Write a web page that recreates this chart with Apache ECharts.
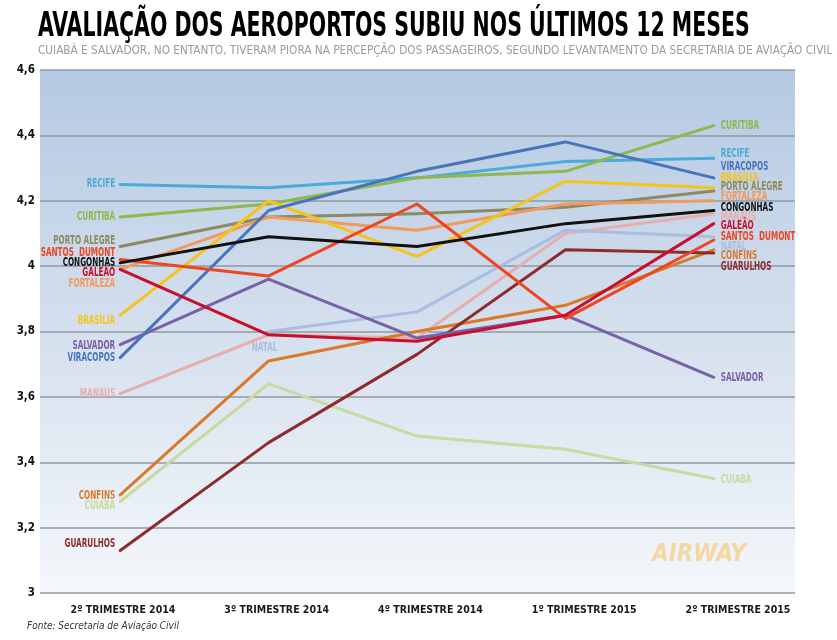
<!DOCTYPE html>
<html>
<head>
<meta charset="utf-8">
<script src="https://cdn.jsdelivr.net/npm/echarts@6/dist/echarts.min.js"></script>
<style>
  html, body { margin: 0; padding: 0; background: #fff; }
  #chart { width: 837px; height: 640px; }
</style>
</head>
<body>
<div id="chart"></div>
<script>
const quarters = ['2º TRIMESTRE 2014', '3º TRIMESTRE 2014', '4º TRIMESTRE 2014', '1º TRIMESTRE 2015', '2º TRIMESTRE 2015'];

// notas por aeroporto (null = sem dado)
const recife       = [4.25, 4.24, 4.27, 4.32, 4.33];
const curitiba     = [4.15, 4.19, 4.27, 4.29, 4.43];
const portoAlegre  = [4.06, 4.15, 4.16, 4.18, 4.23];
const santosDumont = [4.02, 3.97, 4.19, 3.84, 4.08];
const galeao       = [3.99, 3.79, 3.77, 3.85, 4.13];
const fortaleza    = [3.99, 4.15, 4.11, 4.19, 4.20];
const brasilia     = [3.85, 4.20, 4.03, 4.26, 4.24];
const salvador     = [3.76, 3.96, 3.78, 3.85, 3.66];
const viracopos    = [3.72, 4.17, 4.29, 4.38, 4.27];
const manaus       = [3.61, 3.79, 3.78, 4.10, 4.16];
const natal        = [null, 3.80, 3.86, 4.11, 4.09];
const confins      = [3.30, 3.71, 3.80, 3.88, 4.05];
const cuiaba       = [3.28, 3.64, 3.48, 3.44, 3.35];
const guarulhos    = [3.13, 3.46, 3.73, 4.05, 4.04];
const congonhas    = [4.01, 4.09, 4.06, 4.13, 4.17];

const FONT = '"Liberation Sans Narrow", "DejaVu Sans Condensed", sans-serif';

// [nome, dados, cor, deslocamento rótulo esquerdo, deslocamento rótulo direito]
const airports = [
  ['RECIFE', recife, '#4aabd8', 0, -4],
  ['CURITIBA', curitiba, '#8cb84e', 0, 0],
  ['PORTO ALEGRE', portoAlegre, '#8b8a60', -5, -4],
  ['FORTALEZA', fortaleza, '#f19a5b', 15, -4],
  ['BRASÍLIA', brasilia, '#f5c41b', 6, -10],
  ['MANAUS', manaus, '#e6aeac', 0, 3],
  ['NATAL', natal, '#a9bde0', 0, 10],
  ['CONFINS', confins, '#d87a2a', 1, 6],
  ['CUIABÁ', cuiaba, '#c8d9a1', 5, 1],
  ['GUARULHOS', guarulhos, '#8e2c2c', -6, 14],
  ['SALVADOR', salvador, '#7861a8', 1, 1],
  ['VIRACOPOS', viracopos, '#4874bc', 0, -11],
  ['SANTOS  DUMONT', santosDumont, '#ef4520', -7, -3],
  ['GALEÃO', galeao, '#c8102e', 4, 2],
  ['CONGONHAS', congonhas, '#111111', 0, -3]
];

const series = airports.map(([name, values, color]) => ({
  name: name,
  type: 'line',
  xAxisIndex: 1,
  yAxisIndex: 1,
  data: values,
  symbol: 'none',
  lineStyle: { color: color, width: 3, cap: 'round', join: 'round' },
  emphasis: { disabled: true }
}));

const staticGraphics = [
  {
    type: 'text', x: 38, y: 11, scaleX: 0.69,
    style: { text: 'AVALIAÇÃO DOS AEROPORTOS SUBIU NOS ÚLTIMOS 12 MESES', fontFamily: FONT, fontWeight: 'bold', fontSize: 33, fill: '#000' }
  },
  {
    type: 'text', x: 38, y: 44, scaleX: 0.9,
    style: { text: 'CUIABÁ E SALVADOR, NO ENTANTO, TIVERAM PIORA NA PERCEPÇÃO DOS PASSAGEIROS, SEGUNDO LEVANTAMENTO DA SECRETARIA DE AVIAÇÃO CIVIL', fontFamily: FONT, fontSize: 13, fill: '#9b9b9b' }
  },
  {
    type: 'text', x: 27, y: 621,
    style: { text: 'Fonte: Secretaria de Aviação Civil', fontFamily: FONT, fontStyle: 'italic', fontSize: 10, fill: '#333' }
  },
  {
    type: 'text', x: 652, y: 543,
    style: { text: 'AIRWAY', fontFamily: FONT, fontStyle: 'italic', fontWeight: 'bold', fontSize: 24, fill: 'rgba(246, 196, 100, 0.6)' }
  }
];

const chart = echarts.init(document.getElementById('chart'));

chart.setOption({
  animation: false,
  backgroundColor: '#ffffff',
  grid: [
    {
      left: 40, right: 42, top: 70, bottom: 47,
      show: true, borderWidth: 0,
      backgroundColor: new echarts.graphic.LinearGradient(0, 0, 0, 1, [
        { offset: 0, color: '#b4c9e2' },
        { offset: 0.5, color: '#d5e0ee' },
        { offset: 1, color: '#f4f7fb' }
      ])
    },
    { left: 46, right: 49, top: 70, bottom: 47 },
    // faixa só para os rótulos dos trimestres
    { left: 123, right: 99, top: 70, bottom: 47 }
  ],
  xAxis: [
    { type: 'category', gridIndex: 0, data: quarters, show: false },
    { type: 'category', gridIndex: 1, data: quarters, boundaryGap: true, show: false },
    {
      type: 'category',
      gridIndex: 2,
      data: quarters,
      boundaryGap: false,
      axisLine: { show: false },
      axisTick: { show: false },
      axisLabel: {
        interval: 0,
        margin: 12,
        color: '#1a1a1a',
        fontFamily: FONT,
        fontWeight: 'bold',
        fontSize: 10.5
      }
    }
  ],
  yAxis: [
    {
      type: 'value',
      gridIndex: 0,
      min: 3,
      max: 4.6,
      interval: 0.2,
      axisLine: { show: false },
      axisTick: { show: false },
      axisLabel: {
        margin: 5,
        color: '#111',
        fontFamily: FONT,
        fontWeight: 'bold',
        fontSize: 11.5,
        formatter: v => String(Math.round(v * 10) / 10).replace('.', ',')
      },
      splitLine: { lineStyle: { color: '#8f98a3', width: 1.5 } }
    },
    { type: 'value', gridIndex: 1, min: 3, max: 4.6, show: false },
    { type: 'value', gridIndex: 2, min: 3, max: 4.6, show: false }
  ],
  series: series
});

// rótulos condensados nas pontas das linhas, posicionados pela escala do gráfico
const labelGraphics = [];
airports.forEach(([name, values, color, leftOff, rightOff], k) => {
  const first = values.findIndex(v => v !== null);
  const last = values.length - 1;
  const p0 = chart.convertToPixel({ seriesIndex: k }, [first, values[first]]);
  const p1 = chart.convertToPixel({ seriesIndex: k }, [last, values[last]]);
  const style = { text: name, fontFamily: FONT, fontWeight: 'bold', fontSize: 11.5, fill: color, verticalAlign: 'middle' };
  if (first === 0) {
    labelGraphics.push({ type: 'text', x: p0[0] - 5, y: p0[1] + leftOff, scaleX: 0.7, style: Object.assign({}, style, { align: 'right' }) });
  } else {
    labelGraphics.push({ type: 'text', x: p0[0] - 4, y: p0[1] + 17, scaleX: 0.7, style: Object.assign({}, style, { align: 'center' }) });
  }
  labelGraphics.push({ type: 'text', x: p1[0] + 7, y: p1[1] + rightOff, scaleX: 0.7, style: Object.assign({}, style, { align: 'left' }) });
});

chart.setOption({ graphic: staticGraphics.concat(labelGraphics) });
</script>
</body>
</html>
